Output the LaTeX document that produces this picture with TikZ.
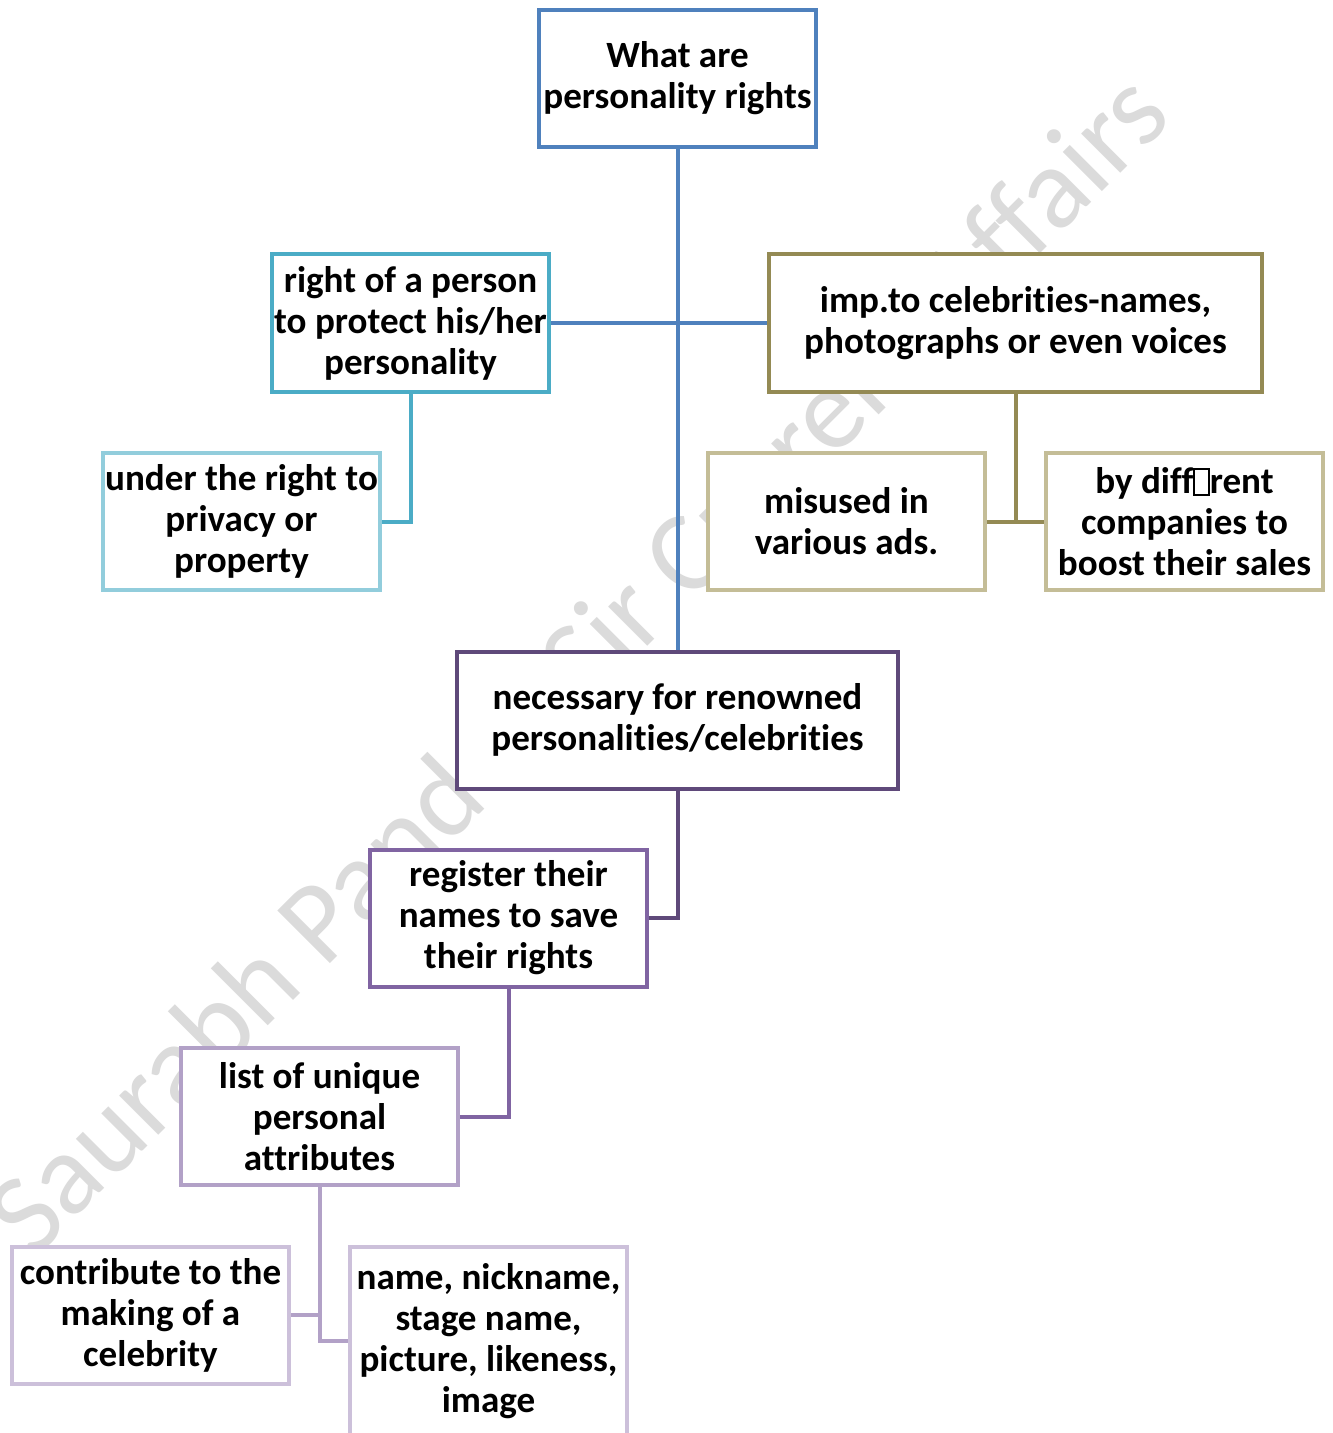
\documentclass[tikz,border=0pt]{standalone}
\usepackage{fontspec}
\setmainfont{Carlito}[Ligatures=NoCommon]
\usepackage{tikz}
\usetikzlibrary{calc}
\definecolor{rootblue}{HTML}{4F81BD}
\definecolor{aqua}{HTML}{4BACC6}
\definecolor{lightaqua}{HTML}{92CDDC}
\definecolor{olive}{HTML}{948A54}
\definecolor{tan}{HTML}{C4BD97}
\definecolor{darkviolet}{HTML}{5F497A}
\definecolor{violet}{HTML}{8064A2}
\definecolor{midviolet}{HTML}{B2A1C7}
\definecolor{paleviolet}{HTML}{CCC0DA}
\newcommand\missingglyph{{\fboxsep=0.5pt\fboxrule=1.2pt\fbox{\rule{0pt}{0.62em}\rule{0.32em}{0pt}}}}
\tikzset{
   box/.style  = {draw, fill=white, line width=3pt, align=center, inner sep=0pt,
                  font=\bfseries\fontsize{27.8}{30.75}\selectfont,
                  minimum width=207.75pt, minimum height=102.75pt},
   link/.style = {-, line width=3pt},
}
\begin{document}
\begin{tikzpicture}[x=0.75pt,y=-0.75pt]

      \clip (0,0) rectangle (1333,1433);
      \fill[white] (0,0) rectangle (1333,1433);

      \node[
         rotate=45,
         text=black!14,
         font=\fontsize{87}{87}\selectfont,
         anchor=center,
      ] (mark) at (582,668) {Saurabh Pandey Sir Current Affairs};

      \node[box, draw=rootblue] (what) at (677.5,78.5) {What are\\personality rights};

      \node[box, draw=aqua] (right) at (410.5,323) {right of a person\\to protect his/her\\personality};

      \node[
         box,
         draw=olive,
         minimum width=369.75pt,
      ] (imp) at (1015.5,323) {imp.to celebrities-names,\\photographs or even voices};

      \node[box, draw=lightaqua] (privacy) at (241.5,521.5) {under the right to\\privacy or\\property};

      \node[box, draw=tan] (misused) at (846.5,521.5) {misused in\\various ads.};

      \node[box, draw=tan] (companies) at (1184.5,521.5) {by diff\missingglyph rent\\companies to\\boost their sales};

      \node[
         box,
         draw=darkviolet,
         minimum width=330.75pt,
      ] (necessary) at (677.5,720) {necessary for renowned\\personalities/celebrities};

      \node[box, draw=violet] (register) at (508.5,918) {register their\\names to save\\their rights};

      \node[box, draw=midviolet] (list) at (319.5,1116.5) {list of unique\\personal\\attributes};

      \node[box, draw=paleviolet] (contribute) at (150.5,1315) {contribute to the\\making of a\\celebrity};

      \node[
         box,
         draw=paleviolet,
         minimum height=141pt,
      ] (attrs) at (488.5,1341) {name, nickname,\\stage name,\\picture, likeness,\\image};

      \draw[link, rootblue]   (what.south)      -- (necessary.north);
      \draw[link, rootblue]   (right.east)      -- (imp.west);
      \draw[link, aqua]       (right.south)     |- (privacy.east);
      \draw[link, olive]      (imp.south)       -- (imp.south |- misused.east);
      \draw[link, olive]      (misused.east)    -- (companies.west);
      \draw[link, darkviolet] (necessary.south) |- (register.east);
      \draw[link, violet]     (register.south)  |- (list.east);
      \draw[link, midviolet]  (list.south)      |- (attrs.west);
      \draw[link, midviolet]  (list.south)      |- (contribute.east);
   \end{tikzpicture}
\end{document}
